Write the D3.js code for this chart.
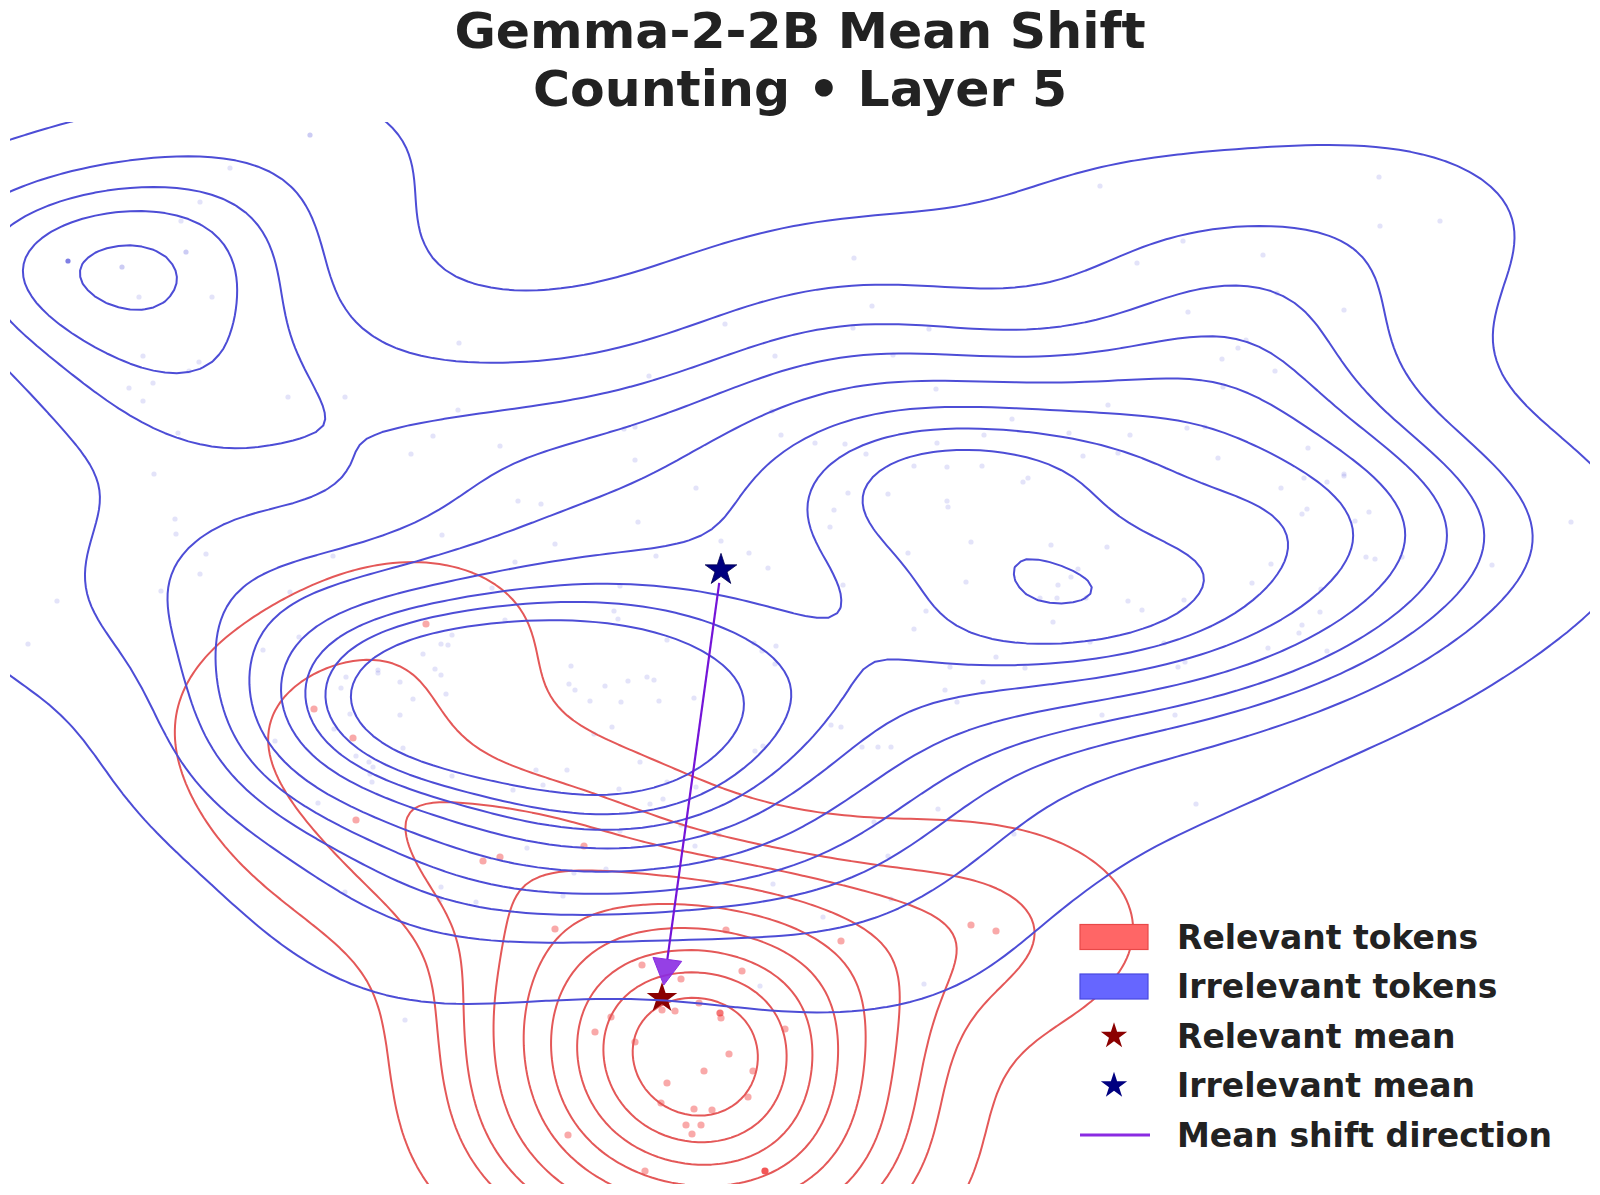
<!DOCTYPE html>
<html>
<head>
<meta charset="utf-8">
<script src="https://cdn.jsdelivr.net/npm/d3@7"></script>
<style>
  body { margin: 0; background: #fff; }
  text { font-family: "DejaVu Sans", sans-serif; font-weight: bold; fill: #222; }
</style>
</head>
<body>
<svg id="chart" width="1600" height="1195"></svg>
<script>
const titleLines = ['Gemma-2-2B Mean Shift', 'Counting \u2022 Layer 5'];

const legendLabels = ['Relevant tokens', 'Irrelevant tokens', 'Relevant mean', 'Irrelevant mean', 'Mean shift direction'];

// projected token positions: [x, y, count]  (count = stacked identical tokens)
const irrelevantPoints = [
  [3.10,10.65,2],[2.30,10.32],[2.00,9.98],[1.81,9.79],[1.86,9.48,2],[0.68,9.39,7],[1.22,9.33,2],
  [1.39,9.03],[2.12,9.03],[1.43,8.44],[1.99,8.38],[1.89,8.29],[1.53,8.17],[1.29,8.12],[1.43,7.99],
  [2.88,8.03],[3.45,8.03],[4.59,8.57],[4.58,7.90],[4.33,7.64],[4.11,7.46],[5.00,7.54],[1.78,7.67],[1.54,7.26],
  [8.54,9.42],[8.72,8.94],[8.53,8.72],[9.29,8.71],[7.25,8.76],[7.75,8.44],[8.93,8.45],[6.49,8.24],
  [9.36,8.11],[7.72,7.89],[6.24,7.71],[6.35,7.73],[7.81,7.65],[8.15,7.57],[8.45,7.56],[8.66,7.46],
  [9.84,7.65],[10.12,7.81],[9.37,7.57],[6.35,7.40],[9.14,7.34],[9.47,7.33],[9.82,7.34],[10.69,7.67],
  [11.00,10.14],[13.79,10.23],[13.80,9.74],[14.40,9.79],[11.83,9.59],[11.37,9.37],[12.63,9.45],
  [12.77,9.07],[13.44,8.90],[11.88,8.88],[12.46,8.60],[12.38,8.52],[12.22,8.41],[12.75,8.29],
  [12.23,8.13],[11.08,7.95],[11.30,7.65],[11.87,7.72],[12.05,7.73],[10.83,7.44],[11.18,7.47],
  [12.18,7.42],[13.08,7.52],[13.44,7.26],
  [1.75,6.81],[1.76,6.66],[2.06,6.46],[2.00,6.26],[1.61,6.09],[0.57,5.99],[0.28,5.56],[2.90,6.08],
  [3.33,6.44],[4.42,6.65],[5.18,6.99],[5.15,6.38],[4.92,6.12],[5.05,5.80],[2.99,5.63],[2.63,5.50],
  [4.52,5.65],[4.41,5.56],[4.48,5.55],[4.23,5.46],[3.46,5.23],[3.78,5.30],[3.78,5.27],[3.41,5.12],
  [4.00,5.18],[4.35,5.31],[4.41,5.25],[4.46,5.06],[4.13,5.01],[3.50,4.86],[4.00,4.85],[3.34,4.71],
  [2.75,4.59],[4.03,4.52],[3.56,4.44],[3.69,4.38],[3.73,4.33],[3.70,4.26],[3.72,4.18],[4.52,4.24],
  [5.13,4.10],[3.18,3.97],
  [6.96,7.12],[5.41,6.96],[6.38,6.78],[5.55,6.56],[6.56,6.44],[7.21,6.59],[7.49,6.47],[7.68,6.32],
  [8.48,7.07],[8.34,6.90],[8.30,6.73],[8.88,7.06],[9.47,6.99],[9.48,6.93],[10.23,7.18],[10.28,7.22],
  [9.71,6.58],[10.51,6.55],[9.08,6.47],[8.43,6.15],[9.66,6.18],[10.58,6.15],[10.40,6.02],[10.57,6.02],
  [9.26,5.89],[9.14,5.71],[10.53,5.78],[9.96,5.43],[10.25,5.32],[9.50,5.33],[9.83,5.18],[9.45,5.10],
  [9.57,4.98],[6.20,6.14],[6.14,5.89],[6.18,5.81],[6.67,5.60],[7.54,5.57],[7.62,5.49],[7.76,5.54],
  [7.75,5.36],[5.71,5.34],[5.69,5.16],[5.75,5.10],[6.05,5.14],[6.28,5.19],[6.47,5.23],[6.54,5.20],
  [5.90,4.99],[6.21,4.98],[6.59,4.99],[6.94,5.02],[6.12,4.73],[5.94,4.66],[6.40,4.38],[8.31,4.75],
  [8.41,4.73],[8.62,4.53],[8.78,4.53],[8.91,4.53],[7.55,4.49],[7.63,4.54],[5.36,4.30],[5.67,4.30],
  [5.43,4.15],[6.19,4.11],[6.67,4.18],[6.96,4.13],[6.63,4.01],[6.50,3.96],[9.38,3.91],[8.74,3.78],
  [6.81,3.75],
  [13.04,7.22],[13.27,7.18],[13.44,7.24],[12.81,7.12],[13.07,6.91],[13.02,6.86],[13.69,6.88],
  [13.55,6.79],[15.71,6.78],[11.07,6.53],[10.78,6.31],[10.71,6.23],[10.86,6.02],[11.28,5.99],
  [11.42,5.90],[11.84,6.00],[12.71,6.36],[12.52,6.17],[13.66,6.43],[13.75,6.41],[14.02,6.43],
  [14.92,6.35],[13.21,6.11],[13.20,5.88],[13.02,5.75],[12.99,5.67],[13.27,5.49],[12.68,5.52],
  [10.90,5.58],[11.64,5.57],[11.85,5.38],[11.78,5.33],[11.02,4.85],[11.75,4.85],[11.96,3.96],
  [3.45,3.08],[4.41,3.13],[4.40,3.00],[4.76,2.98],[5.27,3.52],[4.05,1.80],
  [6.20,3.69],[7.19,3.65],[6.95,3.54],[5.74,3.27],[6.06,3.31],[5.63,3.04],[7.73,3.16],[8.88,3.44],
  [8.91,3.01],[8.23,2.83],[10.14,3.66],[7.60,2.14],[9.24,2.16]
];

const relevantPoints = [
  [4.26,5.76],[3.14,4.91],[3.53,4.62],[3.56,3.80],[4.83,3.39],[5.00,3.43],[5.84,3.54],[5.55,2.71],
  [7.26,2.70],[8.41,2.59],[9.71,2.75],[9.96,2.69],[6.42,2.35],[7.42,2.29],[6.81,2.21],[6.99,1.97],
  [6.62,1.90],[6.75,1.89],[7.20,1.87,2],[7.21,1.82],[6.11,1.83],[5.95,1.68],[7.85,1.71],[6.35,1.58],
  [7.29,1.46],[7.04,1.29],[7.53,1.29],[6.67,1.17],[7.48,1.03],[6.61,0.97],[6.94,0.91],[7.12,0.90],
  [6.86,0.75],[7.01,0.75],[6.92,0.66],[5.68,0.65],[6.45,0.29],[7.65,0.29,3]
];

const relevantMean = [6.62, 2.02];
const irrelevantMean = [7.21, 6.30];

const levelCount = 10, thresh = 0.05;
// bandwidth multipliers on scott's rule, [x, y]
const bwAdjust = { relevant: [1.4, 1.0], irrelevant: [0.85, 0.9] };

const svg = d3.select('#chart');

const x = d3.scaleLinear().domain([0.10, 15.90]).range([10, 1590]);
const y = d3.scaleLinear().domain([0.16, 10.78]).range([1184, 122]);

svg.append('defs').append('clipPath').attr('id', 'plot-clip')
  .append('rect')
  .attr('x', x.range()[0]).attr('y', y.range()[1])
  .attr('width', x.range()[1] - x.range()[0])
  .attr('height', y.range()[0] - y.range()[1]);

// gaussian product kernel on a grid, scott's rule per axis
function kdeGrid(points, adjust, size = 200, cut = 3) {
  const w = points.map(p => p[2] || 1);
  const n = d3.sum(w);
  const mx = d3.sum(points, (p, i) => p[0] * w[i]) / n;
  const my = d3.sum(points, (p, i) => p[1] * w[i]) / n;
  let sxx = 0, syy = 0;
  points.forEach((p, i) => {
    sxx += w[i] * (p[0] - mx) ** 2;
    syy += w[i] * (p[1] - my) ** 2;
  });
  const f = Math.pow(n, -1 / 6);
  const bwx = Math.sqrt(sxx / (n - 1)) * f * adjust[0];
  const bwy = Math.sqrt(syy / (n - 1)) * f * adjust[1];

  const x0 = d3.min(points, p => p[0]) - cut * bwx, x1 = d3.max(points, p => p[0]) + cut * bwx;
  const y0 = d3.min(points, p => p[1]) - cut * bwy, y1 = d3.max(points, p => p[1]) + cut * bwy;
  const dx = (x1 - x0) / (size - 1), dy = (y1 - y0) / (size - 1);

  // separable kernel: precompute per-axis weights
  const kx = points.map(p => d3.range(size).map(i => Math.exp(-0.5 * ((x0 + i * dx - p[0]) / bwx) ** 2)));
  const ky = points.map(p => d3.range(size).map(j => Math.exp(-0.5 * ((y0 + j * dy - p[1]) / bwy) ** 2)));

  const values = new Float64Array(size * size);
  for (let k = 0; k < points.length; k++) {
    const ax = kx[k], ay = ky[k], wk = w[k];
    for (let j = 0; j < size; j++) {
      const v = wk * ay[j];
      if (v < 1e-12) continue;
      for (let i = 0; i < size; i++) values[j * size + i] += v * ax[i];
    }
  }
  return { values, size, x0, y0, dx, dy };
}

// iso-proportion levels
function isoLevels(values) {
  const sorted = Array.from(values).sort((a, b) => b - a);
  const total = d3.sum(sorted);
  let c = 0;
  const cum = sorted.map(v => (c += v) / total);
  const props = d3.range(levelCount).map(i => thresh + i * (1 - thresh) / (levelCount - 1));
  return props
    .map(q => sorted[Math.min(d3.bisectLeft(cum, 1 - q), sorted.length - 1)])
    .filter(v => v < sorted[0]);
}

function drawDensity(points, adjust, color) {
  const g = kdeGrid(points, adjust);
  const levels = isoLevels(g.values);
  const contours = d3.contours().size([g.size, g.size]).thresholds(levels)(g.values);
  const proj = d3.geoTransform({
    point(px, py) {
      this.stream.point(x(g.x0 + (px - 0.5) * g.dx), y(g.y0 + (py - 0.5) * g.dy));
    }
  });
  const path = d3.geoPath(proj);
  svg.append('g')
    .attr('clip-path', 'url(#plot-clip)')
    .selectAll('path')
    .data(contours)
    .join('path')
    .attr('d', path)
    .attr('fill', 'none')
    .attr('stroke', color)
    .attr('stroke-width', 2)
    .attr('stroke-linejoin', 'round');
}

const stackAlpha = (a, k) => 1 - Math.pow(1 - a, k || 1);

// scatter
svg.append('g').attr('clip-path', 'url(#plot-clip)')
  .selectAll('circle')
  .data(irrelevantPoints)
  .join('circle')
  .attr('cx', d => x(d[0])).attr('cy', d => y(d[1]))
  .attr('r', 2.6)
  .attr('fill', '#3a3ad6')
  .attr('fill-opacity', d => Math.min(stackAlpha(0.14, d[2]), 0.8));

svg.append('g').attr('clip-path', 'url(#plot-clip)')
  .selectAll('circle')
  .data(relevantPoints)
  .join('circle')
  .attr('cx', d => x(d[0])).attr('cy', d => y(d[1]))
  .attr('r', 3.6)
  .attr('fill', '#f02828')
  .attr('fill-opacity', d => stackAlpha(0.4, d[2]));

drawDensity(relevantPoints, bwAdjust.relevant, '#e45858');

const star = d3.symbol().type(d3.symbolStar);

svg.append('path')
  .attr('d', star.size(290)())
  .attr('transform', `translate(${x(relevantMean[0])},${y(relevantMean[1])})`)
  .attr('fill', '#8b0000');

drawDensity(irrelevantPoints, bwAdjust.irrelevant, '#4d4dd6');

svg.append('path')
  .attr('d', star.size(310)())
  .attr('transform', `translate(${x(irrelevantMean[0])},${y(irrelevantMean[1])})`)
  .attr('fill', '#000080')
  .attr('stroke', '#000050')
  .attr('stroke-width', 0.8);

// mean shift arrow
(function () {
  const sx = x(irrelevantMean[0]), sy = y(irrelevantMean[1]);
  const ex = x(relevantMean[0]), ey = y(relevantMean[1]);
  const len = Math.hypot(ex - sx, ey - sy);
  const ux = (ex - sx) / len, uy = (ey - sy) / len;
  const shrink = 13, headLen = 26, headW = 29;
  const ax = sx + ux * shrink, ay = sy + uy * shrink;
  const tx = ex - ux * shrink, ty = ey - uy * shrink;
  const bx = tx - ux * headLen, by = ty - uy * headLen;
  svg.append('line')
    .attr('x1', ax).attr('y1', ay).attr('x2', bx).attr('y2', by)
    .attr('stroke', '#7414d8').attr('stroke-width', 2.2);
  svg.append('path')
    .attr('d', d3.line()([
      [tx, ty],
      [bx - uy * headW / 2, by + ux * headW / 2],
      [bx + uy * headW / 2, by - ux * headW / 2]
    ]) + 'Z')
    .attr('fill', '#8a2be2').attr('fill-opacity', 0.9)
    .attr('stroke', '#8a2be2').attr('stroke-width', 1);
})();

// title
svg.append('g').selectAll('text')
  .data(titleLines)
  .join('text')
  .attr('x', 800)
  .attr('y', (d, i) => 48 + i * 58)
  .attr('text-anchor', 'middle')
  .attr('font-size', 50.5)
  .text(d => d);

// legend
const legend = svg.append('g').attr('transform', 'translate(1080,937)');
const rowH = 49.5;
legend.selectAll('text')
  .data(legendLabels)
  .join('text')
  .attr('x', 97)
  .attr('y', (d, i) => i * rowH)
  .attr('dy', '0.36em')
  .attr('font-size', 33)
  .text(d => d);

legend.append('rect').attr('x', 0).attr('y', -12.5).attr('width', 68).attr('height', 25)
  .attr('fill', '#ff6666').attr('stroke', '#e84848').attr('stroke-width', 1.2);
legend.append('rect').attr('x', 0).attr('y', rowH - 12.5).attr('width', 68).attr('height', 25)
  .attr('fill', '#6666ff').attr('stroke', '#4848e0').attr('stroke-width', 1.2);
legend.append('path').attr('d', star.size(215)())
  .attr('transform', `translate(34,${2 * rowH})`).attr('fill', '#8b0000');
legend.append('path').attr('d', star.size(215)())
  .attr('transform', `translate(34,${3 * rowH})`).attr('fill', '#000080');
legend.append('line')
  .attr('x1', 0).attr('x2', 70).attr('y1', 4 * rowH).attr('y2', 4 * rowH)
  .attr('stroke', '#8a2be2').attr('stroke-width', 3);
</script>
</body>
</html>
